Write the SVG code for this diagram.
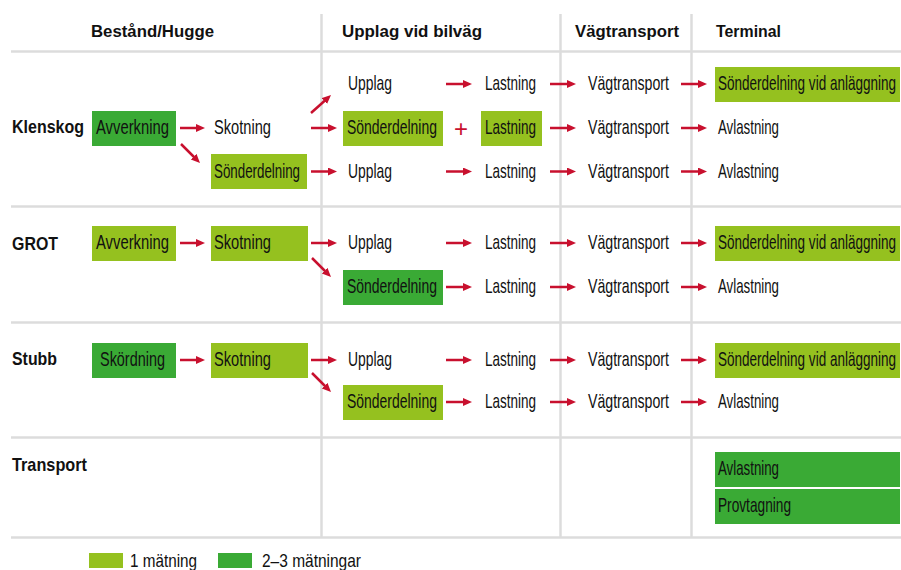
<svg xmlns="http://www.w3.org/2000/svg" width="901" height="570" viewBox="0 0 901 570">
<style>
.grid{stroke:#dcdcdc;stroke-width:2.5;fill:none}
.hd{font-family:"Liberation Sans",Arial,sans-serif;font-weight:bold;font-size:17px;fill:#111}
.lb{font-family:"Liberation Sans",Arial,sans-serif;font-weight:bold;font-size:19px;fill:#111}
.t{font-family:"Liberation Sans",Arial,sans-serif;font-size:21px;fill:#111}
.lg{font-family:"Liberation Sans",Arial,sans-serif;font-size:19px;fill:#111}
.l{fill:#95c11f}
.d{fill:#3aaa35}
.ar{stroke:#c8102e;stroke-width:2.5;fill:none;marker-end:url(#ah)}
</style>
<defs>
<marker id="ah" markerUnits="userSpaceOnUse" markerWidth="10" markerHeight="9" refX="0.5" refY="4" orient="auto">
<path d="M0,0 L9,4 L0,8 z" fill="#c8102e"/>
</marker>
</defs>
<rect width="901" height="570" fill="#fff"/>
<g id="grid">
<line class="grid" x1="11" y1="51.5" x2="901" y2="51.5"/>
<line class="grid" x1="11" y1="206.5" x2="901" y2="206.5"/>
<line class="grid" x1="11" y1="322.5" x2="901" y2="322.5"/>
<line class="grid" x1="11" y1="437.5" x2="901" y2="437.5"/>
<line class="grid" x1="11" y1="537.5" x2="901" y2="537.5"/>
<line class="grid" x1="321.5" y1="14" x2="321.5" y2="537"/>
<line class="grid" x1="560.5" y1="14" x2="560.5" y2="537"/>
<line class="grid" x1="691.5" y1="14" x2="691.5" y2="537"/>
</g>
<g id="headers">
<text class="hd" x="91" y="37" textLength="123" lengthAdjust="spacingAndGlyphs">Bestånd/Hugge</text>
<text class="hd" x="342" y="37" textLength="140" lengthAdjust="spacingAndGlyphs">Upplag vid bilväg</text>
<text class="hd" x="575" y="37" textLength="104" lengthAdjust="spacingAndGlyphs">Vägtransport</text>
<text class="hd" x="716" y="37" textLength="65" lengthAdjust="spacingAndGlyphs">Terminal</text>
</g>
<g id="rowlabels">
<text class="lb" x="12" y="133" textLength="72" lengthAdjust="spacingAndGlyphs">Klenskog</text>
<text class="lb" x="12" y="250" textLength="46" lengthAdjust="spacingAndGlyphs">GROT</text>
<text class="lb" x="12" y="365" textLength="45" lengthAdjust="spacingAndGlyphs">Stubb</text>
<text class="lb" x="12" y="471" textLength="75" lengthAdjust="spacingAndGlyphs">Transport</text>
</g>
<g id="connectors">
<line class="ar" x1="180" y1="128" x2="196.5" y2="128"/>
<line class="ar" x1="181" y1="144" x2="194" y2="157"/>
<line class="ar" x1="311" y1="113" x2="324.7" y2="100.7"/>
<line class="ar" x1="311" y1="128" x2="328.5" y2="128"/>
<line class="ar" x1="311" y1="171.5" x2="328.5" y2="171.5"/>
<line class="ar" x1="446" y1="84" x2="463.5" y2="84"/>
<line class="ar" x1="446" y1="171.5" x2="463.5" y2="171.5"/>
<line class="ar" x1="550" y1="84" x2="567.5" y2="84"/>
<line class="ar" x1="550" y1="128" x2="567.5" y2="128"/>
<line class="ar" x1="550" y1="171.5" x2="567.5" y2="171.5"/>
<line class="ar" x1="681" y1="84" x2="698.5" y2="84"/>
<line class="ar" x1="681" y1="128" x2="698.5" y2="128"/>
<line class="ar" x1="681" y1="171.5" x2="698.5" y2="171.5"/>
<line class="ar" x1="180" y1="243" x2="196.5" y2="243"/>
<line class="ar" x1="311" y1="243" x2="328.5" y2="243"/>
<line class="ar" x1="312" y1="258" x2="325" y2="271"/>
<line class="ar" x1="446" y1="243" x2="463.5" y2="243"/>
<line class="ar" x1="446" y1="287" x2="463.5" y2="287"/>
<line class="ar" x1="550" y1="243" x2="567.5" y2="243"/>
<line class="ar" x1="550" y1="287" x2="567.5" y2="287"/>
<line class="ar" x1="681" y1="243" x2="698.5" y2="243"/>
<line class="ar" x1="681" y1="287" x2="698.5" y2="287"/>
<line class="ar" x1="180" y1="360" x2="196.5" y2="360"/>
<line class="ar" x1="311" y1="360" x2="328.5" y2="360"/>
<line class="ar" x1="312" y1="373" x2="325" y2="386"/>
<line class="ar" x1="446" y1="360" x2="463.5" y2="360"/>
<line class="ar" x1="446" y1="402" x2="463.5" y2="402"/>
<line class="ar" x1="550" y1="360" x2="567.5" y2="360"/>
<line class="ar" x1="550" y1="402" x2="567.5" y2="402"/>
<line class="ar" x1="681" y1="360" x2="698.5" y2="360"/>
<line class="ar" x1="681" y1="402" x2="698.5" y2="402"/>
<text x="461" y="137" font-family="Liberation Sans, Arial, sans-serif" font-size="24" fill="#c8102e" text-anchor="middle">+</text>
</g>
<!-- Klenskog -->
<g id="k-avverkning"><rect class="d" x="92" y="111" width="84" height="35"/><text class="t" x="96" y="134" textLength="73" lengthAdjust="spacingAndGlyphs">Avverkning</text></g>
<g id="k-skotning"><text class="t" x="214" y="134" textLength="57" lengthAdjust="spacingAndGlyphs">Skotning</text></g>
<g id="k-sonderdelning1"><rect class="l" x="211" y="154" width="96" height="35"/><text class="t" x="214" y="177.5" textLength="86" lengthAdjust="spacingAndGlyphs">Sönderdelning</text></g>
<g id="k-upplag1"><text class="t" x="348" y="90" textLength="44" lengthAdjust="spacingAndGlyphs">Upplag</text></g>
<g id="k-sonderdelning2"><rect class="l" x="343" y="111" width="100" height="35"/><text class="t" x="347" y="134" textLength="90" lengthAdjust="spacingAndGlyphs">Sönderdelning</text></g>
<g id="k-upplag3"><text class="t" x="348" y="177.5" textLength="44" lengthAdjust="spacingAndGlyphs">Upplag</text></g>
<g id="k-lastning1"><text class="t" x="485" y="90" textLength="51" lengthAdjust="spacingAndGlyphs">Lastning</text></g>
<g id="k-lastning2"><rect class="l" x="481" y="111" width="61" height="35"/><text class="t" x="485" y="134" textLength="51" lengthAdjust="spacingAndGlyphs">Lastning</text></g>
<g id="k-lastning3"><text class="t" x="485" y="177.5" textLength="51" lengthAdjust="spacingAndGlyphs">Lastning</text></g>
<g id="k-vag1"><text class="t" x="588" y="90" textLength="81" lengthAdjust="spacingAndGlyphs">Vägtransport</text></g>
<g id="k-vag2"><text class="t" x="588" y="134" textLength="81" lengthAdjust="spacingAndGlyphs">Vägtransport</text></g>
<g id="k-vag3"><text class="t" x="588" y="177.5" textLength="81" lengthAdjust="spacingAndGlyphs">Vägtransport</text></g>
<g id="k-terminal1"><rect class="l" x="715" y="67" width="185" height="35"/><text class="t" x="718" y="90" textLength="178" lengthAdjust="spacingAndGlyphs">Sönderdelning vid anläggning</text></g>
<g id="k-avlastning2"><text class="t" x="718" y="134" textLength="61" lengthAdjust="spacingAndGlyphs">Avlastning</text></g>
<g id="k-avlastning3"><text class="t" x="718" y="177.5" textLength="61" lengthAdjust="spacingAndGlyphs">Avlastning</text></g>
<!-- GROT -->
<g id="g-avverkning"><rect class="l" x="92" y="226" width="84" height="35"/><text class="t" x="96" y="249" textLength="73" lengthAdjust="spacingAndGlyphs">Avverkning</text></g>
<g id="g-skotning"><rect class="l" x="211" y="226" width="97" height="35"/><text class="t" x="214" y="249" textLength="57" lengthAdjust="spacingAndGlyphs">Skotning</text></g>
<g id="g-upplag"><text class="t" x="348" y="249" textLength="44" lengthAdjust="spacingAndGlyphs">Upplag</text></g>
<g id="g-sonderdelning"><rect class="d" x="343" y="270" width="100" height="35"/><text class="t" x="347" y="293" textLength="90" lengthAdjust="spacingAndGlyphs">Sönderdelning</text></g>
<g id="g-lastning1"><text class="t" x="485" y="249" textLength="51" lengthAdjust="spacingAndGlyphs">Lastning</text></g>
<g id="g-lastning2"><text class="t" x="485" y="293" textLength="51" lengthAdjust="spacingAndGlyphs">Lastning</text></g>
<g id="g-vag1"><text class="t" x="588" y="249" textLength="81" lengthAdjust="spacingAndGlyphs">Vägtransport</text></g>
<g id="g-vag2"><text class="t" x="588" y="293" textLength="81" lengthAdjust="spacingAndGlyphs">Vägtransport</text></g>
<g id="g-terminal1"><rect class="l" x="715" y="226" width="185" height="35"/><text class="t" x="718" y="249" textLength="178" lengthAdjust="spacingAndGlyphs">Sönderdelning vid anläggning</text></g>
<g id="g-avlastning"><text class="t" x="718" y="293" textLength="61" lengthAdjust="spacingAndGlyphs">Avlastning</text></g>
<!-- Stubb -->
<g id="s-skordning"><rect class="d" x="92" y="343" width="84" height="35"/><text class="t" x="100" y="366" textLength="65" lengthAdjust="spacingAndGlyphs">Skördning</text></g>
<g id="s-skotning"><rect class="l" x="211" y="343" width="97" height="35"/><text class="t" x="214" y="366" textLength="57" lengthAdjust="spacingAndGlyphs">Skotning</text></g>
<g id="s-upplag"><text class="t" x="348" y="366" textLength="44" lengthAdjust="spacingAndGlyphs">Upplag</text></g>
<g id="s-sonderdelning"><rect class="l" x="343" y="385" width="100" height="35"/><text class="t" x="347" y="408" textLength="90" lengthAdjust="spacingAndGlyphs">Sönderdelning</text></g>
<g id="s-lastning1"><text class="t" x="485" y="366" textLength="51" lengthAdjust="spacingAndGlyphs">Lastning</text></g>
<g id="s-lastning2"><text class="t" x="485" y="408" textLength="51" lengthAdjust="spacingAndGlyphs">Lastning</text></g>
<g id="s-vag1"><text class="t" x="588" y="366" textLength="81" lengthAdjust="spacingAndGlyphs">Vägtransport</text></g>
<g id="s-vag2"><text class="t" x="588" y="408" textLength="81" lengthAdjust="spacingAndGlyphs">Vägtransport</text></g>
<g id="s-terminal1"><rect class="l" x="715" y="343" width="185" height="35"/><text class="t" x="718" y="366" textLength="178" lengthAdjust="spacingAndGlyphs">Sönderdelning vid anläggning</text></g>
<g id="s-avlastning"><text class="t" x="718" y="408" textLength="61" lengthAdjust="spacingAndGlyphs">Avlastning</text></g>
<!-- Transport -->
<g id="t-avlastning"><rect class="d" x="715" y="452" width="185" height="35"/><text class="t" x="718" y="475" textLength="61" lengthAdjust="spacingAndGlyphs">Avlastning</text></g>
<g id="t-provtagning"><rect class="d" x="715" y="489" width="185" height="35"/><text class="t" x="718" y="512" textLength="73" lengthAdjust="spacingAndGlyphs">Provtagning</text></g>
<!-- Legend -->
<g id="legend">
<rect class="l" x="89" y="553" width="34" height="15"/>
<text class="lg" x="130" y="567" textLength="67" lengthAdjust="spacingAndGlyphs">1 mätning</text>
<rect class="d" x="218" y="553" width="34" height="15"/>
<text class="lg" x="262" y="567" textLength="99" lengthAdjust="spacingAndGlyphs">2–3 mätningar</text>
</g>
</svg>
